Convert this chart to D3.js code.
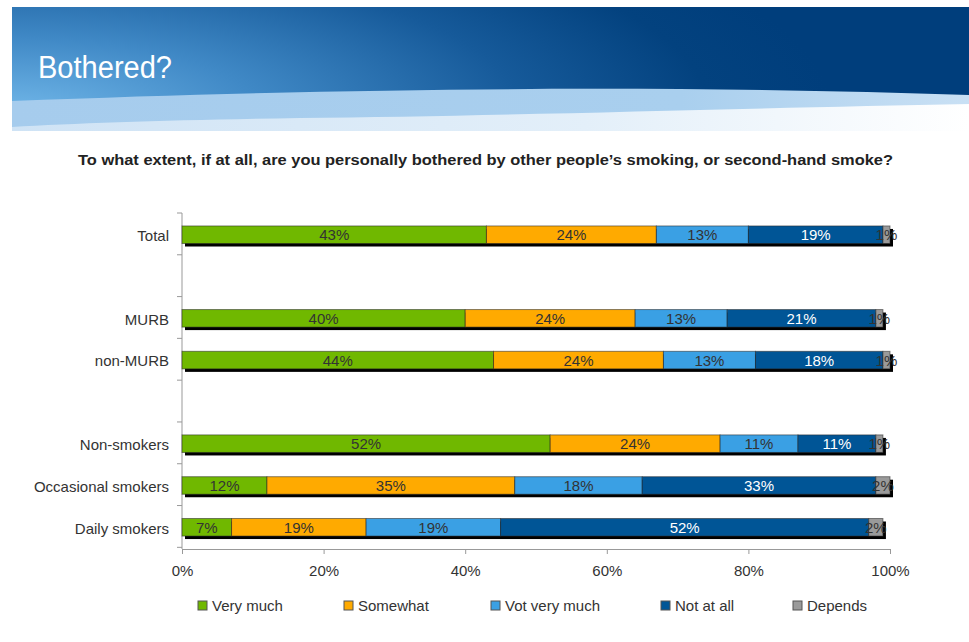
<!DOCTYPE html>
<html>
<head>
<meta charset="utf-8">
<script src="https://cdn.jsdelivr.net/npm/d3@7/dist/d3.min.js"></script>
<style>
  html, body { margin: 0; padding: 0; background: #ffffff; }
  svg { display: block; }
  text { font-family: "Liberation Sans", Arial, sans-serif; }
</style>
</head>
<body>
<svg id="chart" width="969" height="642"></svg>
<script>
// ---------- data ----------
const categories = ["Total", "", "MURB", "non-MURB", "", "Non-smokers", "Occasional smokers", "Daily smokers"];
const seriesNames = ["Very much", "Somewhat", "Vot very much", "Not at all", "Depends"];
const seriesColors = ["#70b800", "#ffaa00", "#3aa0e4", "#005596", "#9a9a9a"];
const labelColors = ["#333333", "#333333", "#333333", "#ffffff", "#333333"];
// values per category (blank rows have null)
const veryMuch    = [43, null, 40, 44, null, 52, 12, 7];
const somewhat    = [24, null, 24, 24, null, 24, 35, 19];
const notVeryMuch = [13, null, 13, 13, null, 11, 18, 19];
const notAtAll    = [19, null, 21, 18, null, 11, 33, 52];
const depends     = [1,  null, 1,  1,  null, 1,  2,  2];
const xTicks = [0, 20, 40, 60, 80, 100];
const titleText = "Bothered?";
const subtitleText = "To what extent, if at all, are you personally bothered by other people\u2019s smoking, or second-hand smoke?";

const seriesValues = [veryMuch, somewhat, notVeryMuch, notAtAll, depends];
const rowKeys = categories.map((c, i) => i);

const svg = d3.select("#chart");
const defs = svg.append("defs");

// ---------- header ----------
const rg = defs.append("radialGradient").attr("id", "hdrGrad")
  .attr("gradientUnits", "userSpaceOnUse")
  .attr("cx", 12).attr("cy", 112).attr("r", 820)
  .attr("gradientTransform", "translate(12,112) scale(1,0.3) translate(-12,-112)");
[[0, "#70b6e8"], [0.3, "#4089c6"], [0.62, "#165a9a"], [0.85, "#03427f"], [1, "#003e7c"]]
  .forEach(([o, c]) => rg.append("stop").attr("offset", o).attr("stop-color", c));

const paleGrad = defs.append("linearGradient").attr("id", "paleGrad")
  .attr("x1", 0).attr("y1", 0).attr("x2", 1).attr("y2", 0);
[[0, "#cfe3f5"], [0.6, "#e3eff9"], [1, "#ffffff"]]
  .forEach(([o, c]) => paleGrad.append("stop").attr("offset", o).attr("stop-color", c));

const waveGrad = defs.append("linearGradient").attr("id", "waveGrad")
  .attr("x1", 0).attr("y1", 0).attr("x2", 1).attr("y2", 0);
[[0, "#a6cced"], [0.7, "#a9cfee"], [1, "#c9e0f4"]]
  .forEach(([o, c]) => waveGrad.append("stop").attr("offset", o).attr("stop-color", c));

const hdr = svg.append("g");
hdr.append("rect").attr("x", 12).attr("y", 7).attr("width", 957).attr("height", 124)
  .attr("fill", "url(#paleGrad)");
// light wave
hdr.append("path")
  .attr("d", "M12,99 C250,90 600,84 969,93 L969,104 C750,108 500,116 300,118 C180,120 80,123 12,127 Z")
  .attr("fill", "url(#waveGrad)");
// dark top
hdr.append("path")
  .attr("d", "M12,7 L969,7 L969,95 C700,86 400,86 12,101 Z")
  .attr("fill", "url(#hdrGrad)");

hdr.append("text")
  .attr("x", 38).attr("y", 78)
  .attr("font-size", 31)
  .attr("fill", "#ffffff")
  .attr("textLength", 134)
  .attr("lengthAdjust", "spacingAndGlyphs")
  .text(titleText);

svg.append("text")
  .attr("x", 485.5).attr("y", 165)
  .attr("text-anchor", "middle")
  .attr("font-size", 14)
  .attr("font-weight", "bold")
  .attr("fill", "#222222")
  .attr("textLength", 815)
  .attr("lengthAdjust", "spacingAndGlyphs")
  .text(subtitleText);

// ---------- scales ----------
const x = d3.scaleLinear().domain([0, 100]).range([182, 890]);
const y = d3.scaleBand().domain(rowKeys).range([213, 549]).paddingInner(0.58).paddingOuter(0.31);

// ---------- axes ----------
const yAxisG = svg.append("g");
yAxisG.append("line").attr("x1", 182).attr("x2", 182).attr("y1", 213).attr("y2", 549)
  .attr("stroke", "#999999").attr("stroke-width", 1);
// tick marks at band boundaries
const step = y.step();
d3.range(rowKeys.length + 1).forEach(i => {
  yAxisG.append("line")
    .attr("x1", 177).attr("x2", 182)
    .attr("y1", 213 + i * step).attr("y2", 213 + i * step)
    .attr("stroke", "#999999");
});
yAxisG.selectAll("text.cat").data(rowKeys).enter().append("text")
  .attr("class", "cat")
  .attr("x", 169)
  .attr("y", d => y(d) + y.bandwidth() / 2 + 1)
  .attr("dy", "0.35em")
  .attr("text-anchor", "end")
  .attr("font-size", 15)
  .attr("fill", "#333333")
  .text(d => categories[d]);

const xAxis = d3.axisBottom(x).tickValues(xTicks).tickSize(5).tickFormat(d => d + "%");
const xAxisG = svg.append("g").attr("transform", "translate(0,549)").call(xAxis);
xAxisG.select(".domain").attr("stroke", "#999999");
xAxisG.selectAll(".tick line").attr("stroke", "#999999");
xAxisG.selectAll(".tick text")
  .attr("font-family", "'Liberation Sans', Arial, sans-serif")
  .attr("font-size", 15).attr("fill", "#333333").attr("dy", "1.25em");

// ---------- bars ----------
const rows = rowKeys.filter(i => veryMuch[i] !== null).map(i => {
  let acc = 0;
  const segs = seriesValues.map((arr, s) => {
    const seg = { s, x0: acc, x1: acc + arr[i], v: arr[i] };
    acc += arr[i];
    return seg;
  });
  return { i, segs, total: acc };
});

const barG = svg.append("g");
// shadows
barG.selectAll("rect.shadow").data(rows).enter().append("rect")
  .attr("class", "shadow")
  .attr("x", d => x(0) + 3)
  .attr("y", d => y(d.i) + 3)
  .attr("width", d => x(d.total) - x(0))
  .attr("height", y.bandwidth())
  .attr("fill", "#000000");

const rowG = barG.selectAll("g.row").data(rows).enter().append("g").attr("class", "row");
rowG.selectAll("rect.seg").data(d => d.segs.map(s => Object.assign({ i: d.i }, s))).enter()
  .append("rect")
  .attr("class", "seg")
  .attr("x", d => x(d.x0))
  .attr("y", d => y(d.i))
  .attr("width", d => x(d.x1) - x(d.x0))
  .attr("height", y.bandwidth())
  .attr("fill", d => seriesColors[d.s])
  .attr("stroke", "rgba(40,40,40,0.55)")
  .attr("stroke-width", 1);

rowG.selectAll("text.val").data(d => d.segs.map(s => Object.assign({ i: d.i }, s))).enter()
  .append("text")
  .attr("class", "val")
  .attr("x", d => (x(d.x0) + x(d.x1)) / 2)
  .attr("y", d => y(d.i) + y.bandwidth() / 2)
  .attr("dy", "0.36em")
  .attr("text-anchor", "middle")
  .attr("font-size", 15)
  .attr("fill", d => labelColors[d.s])
  .text(d => d.v + "%");

// ---------- legend ----------
const legendX = [198, 344, 491, 661, 793];
const lg = svg.append("g");
seriesNames.forEach((name, s) => {
  lg.append("rect")
    .attr("x", legendX[s]).attr("y", 601)
    .attr("width", 9).attr("height", 9)
    .attr("fill", seriesColors[s])
    .attr("stroke", "#555555").attr("stroke-width", 1);
  lg.append("text")
    .attr("x", legendX[s] + 14).attr("y", 606)
    .attr("dy", "0.36em")
    .attr("font-size", 15)
    .attr("fill", "#333333")
    .text(name);
});
</script>
</body>
</html>
